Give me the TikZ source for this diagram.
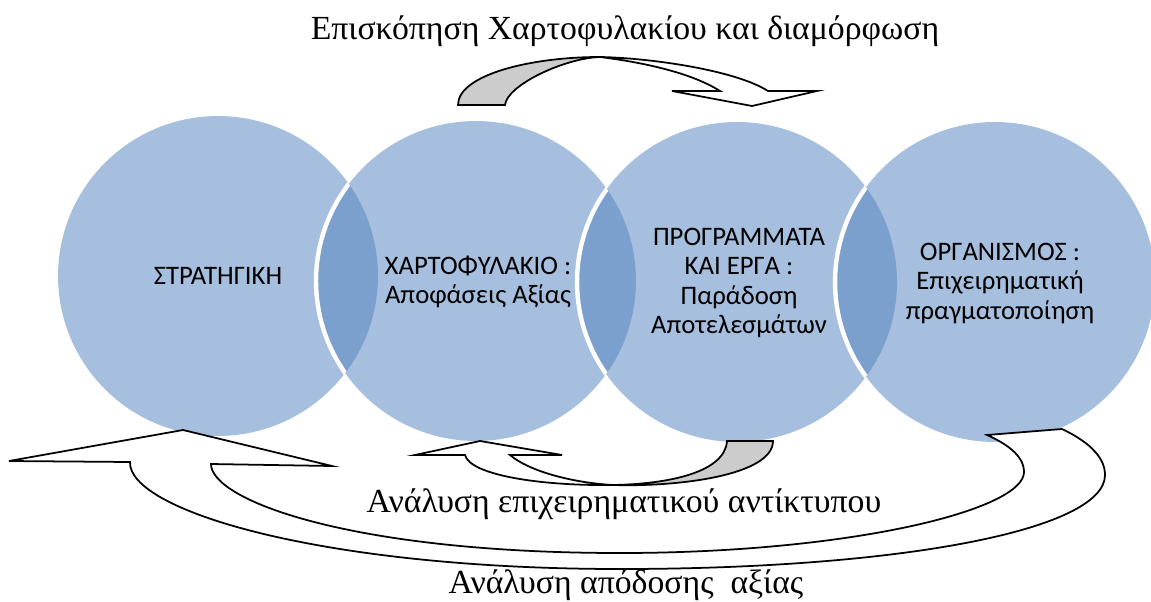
\documentclass[tikz,border=0pt]{standalone}
\usepackage{fontspec}
\usepackage{tikz}
\newfontfamily\circfont{Carlito}
\newfontfamily\captfont{Liberation Serif}
\definecolor{circblue}{HTML}{A7BFDE}
\definecolor{lensblue}{HTML}{7BA0CD}
\definecolor{backgray}{HTML}{CCCCCC}

\begin{document}
\begin{tikzpicture}[
    x=0.02cm, y=-0.02cm,
    circ/.style={circle, fill=circblue, minimum size=6.4cm, inner sep=0pt},
    lbl/.style={align=center, font=\circfont\fontsize{15.2}{16.8}\selectfont},
    capt/.style={anchor=base, font=\captfont\fontsize{19.2}{22}\selectfont},
    barr/.style={draw=black, fill=white, line width=1pt, line join=miter},
    garr/.style={draw=black, fill=backgray, line width=1pt, line join=miter},
]
\useasboundingbox (0,0) rectangle (1151,601);
\clip (0,0) rectangle (1151,601);
% circles
\node[circ] (c1) at (218,276) {};
\node[circ] (c2) at (476,281) {};
\node[circ] (c3) at (737,282) {};
\node[circ] (c4) at (995,282) {};
% overlaps
\foreach \a/\b in {c1/c2, c2/c3, c3/c4} {
  \begin{scope}
    \clip (\a.center) circle [radius=3.2cm];
    \fill[lensblue] (\b.center) circle [radius=3.2cm];
    \draw[white, line width=2.5pt] (\b.center) circle [radius=3.2cm];
  \end{scope}
}
% labels
\node[lbl] (strat) at (218,276) {ΣΤΡΑΤΗΓΙΚΗ};
\node[lbl] (portf) at (478,282) {ΧΑΡΤΟΦΥΛΑΚΙΟ :\\Αποφάσεις Αξίας};
\node[lbl] (progr) at (739,283) {ΠΡΟΓΡΑΜΜΑΤΑ\\ΚΑΙ ΕΡΓΑ :\\Παράδοση\\Αποτελεσμάτων};
\node[lbl] (organ) at (1000,283) {ΟΡΓΑΝΙΣΜΟΣ :\\Επιχειρηματική\\πραγματοποίηση};
% top arrow
\draw[garr] (458,105) .. controls (458,75) and (530,57) .. (600,57)
    .. controls (565,58) and (507,85) .. (505,105) -- cycle;
\draw[barr] (600,57) .. controls (650,58) and (735,70) .. (768,91)
    -- (817,91) -- (752,106) -- (672,91) -- (720,91)
    .. controls (690,72) and (640,62) .. (600,57) -- cycle;
% big bottom arrow
\draw[barr] (1062,429) .. controls (1085,440) and (1105,455) .. (1105,475)
    .. controls (1105,530) and (900,569) .. (620,569)
    .. controls (320,569) and (128,510) .. (130,462)
    -- (9,461) -- (183,430) -- (332,466) -- (211,464)
    .. controls (211,500) and (350,553) .. (620,553)
    .. controls (850,553) and (1024,510) .. (1024,472)
    .. controls (1024,455) and (1005,443) .. (987,435) -- cycle;
% small bottom arrow
\draw[garr] (727,441) .. controls (725,472) and (670,484) .. (613,485)
    .. controls (680,487) and (773,475) .. (773,441) -- cycle;
\draw[barr] (613,485) .. controls (540,486) and (470,475) .. (465,455)
    -- (415,455) -- (480,441) -- (562,455) -- (510,455)
    .. controls (530,472) and (575,483) .. (613,485) -- cycle;
% captions
\node[capt] (review) at (625,40) {Επισκόπηση Χαρτοφυλακίου και διαμόρφωση};
\node[capt] (impact) at (624,512) {Ανάλυση επιχειρηματικού αντίκτυπου};
\node[capt] (value) at (626,593) {Ανάλυση απόδοσης\ \ αξίας};
\end{tikzpicture}
\end{document}
